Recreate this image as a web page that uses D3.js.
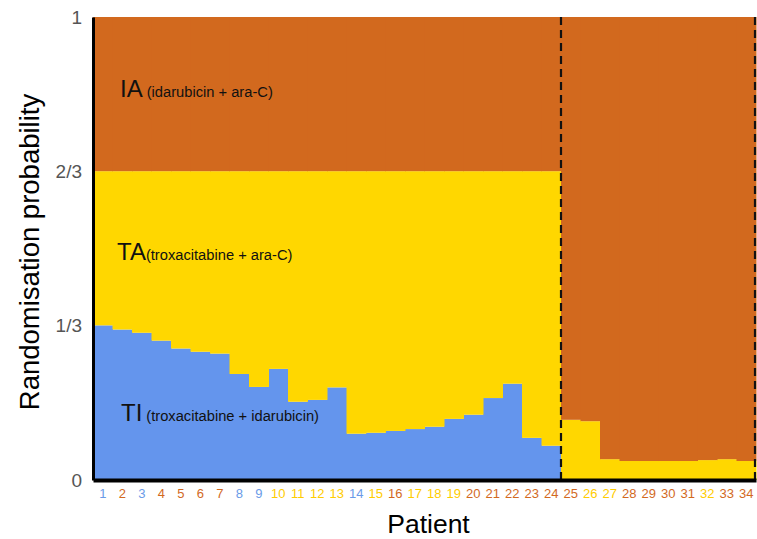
<!DOCTYPE html>
<html lang="en">
<head>
<meta charset="UTF-8">
<title>Randomisation probability by patient</title>
<script src="https://d3js.org/d3.v7.min.js"></script>
<style>
  body { margin: 0; background: #fff; }
  svg text { font-family: Arial, "Liberation Sans", sans-serif; }
  .axis-y text { font-size: 19px; fill: #555; }
  .axis-x text { font-size: 13px; }
</style>
</head>
<body>
<div id="chart"></div>
<script>
// data
const patients = d3.range(1, 35).map(String);
// probability of TI (troxacitabine + idarubicin)
const probTI = [0.334, 0.325, 0.318, 0.301, 0.284, 0.277, 0.273, 0.229, 0.201, 0.240,
  0.169, 0.173, 0.200, 0.100, 0.102, 0.106, 0.110, 0.115, 0.132, 0.141,
  0.177, 0.208, 0.091, 0.074, 0, 0, 0, 0, 0, 0, 0, 0, 0, 0];
// probability of TA (troxacitabine + ara-C)
const probTA = [0.333, 0.342, 0.349, 0.366, 0.383, 0.390, 0.394, 0.438, 0.466, 0.427,
  0.498, 0.494, 0.467, 0.567, 0.565, 0.561, 0.557, 0.552, 0.535, 0.526,
  0.490, 0.459, 0.576, 0.593, 0.130, 0.127, 0.045, 0.041, 0.041, 0.041, 0.041, 0.043, 0.045, 0.041];
// arm actually assigned to each patient (colours the tick label)
const assigned = ["TI", "IA", "TI", "IA", "IA", "IA", "IA", "TI", "TI", "TA",
  "TA", "TA", "TA", "TI", "TA", "IA", "TA", "TA", "TA", "IA",
  "IA", "IA", "IA", "IA", "IA", "TA", "TA", "IA", "IA", "IA", "IA", "TA", "IA", "IA"];
const yTicks = [0, 1/3, 2/3, 1];
const yTickLabels = ["0", "1/3", "2/3", "1"];
const arms = ["TI", "TA", "IA"];
const armNames = {
  IA: "(idarubicin + ara-C)",
  TA: "(troxacitabine + ara-C)",
  TI: "(troxacitabine + idarubicin)"
};

const colors = { TI: "#6495ED", TA: "#FFD700", IA: "#D2691E" };
const labelColors = { TI: "#6A9BE8", TA: "#FFCC00", IA: "#D2691E" };

const W = 757, H = 539;
const margin = { top: 17, right: 1, bottom: 59, left: 93 };

const rows = patients.map((p, i) => ({
  patient: p,
  TI: probTI[i],
  TA: probTA[i],
  IA: 1 - probTI[i] - probTA[i]
}));

const svg = d3.select("#chart").append("svg")
  .attr("width", W).attr("height", H);

const x = d3.scaleBand()
  .domain(patients)
  .range([margin.left, W - margin.right])
  .padding(0);

const y = d3.scaleLinear()
  .domain([0, 1])
  .range([H - margin.bottom, margin.top]);

const stacked = d3.stack().keys(arms)(rows);

// stacked bars
svg.append("g").selectAll("g")
  .data(stacked)
  .enter().append("g")
  .attr("fill", d => colors[d.key])
  .selectAll("rect")
  .data(d => d)
  .enter().append("rect")
  .attr("x", d => x(d.data.patient))
  .attr("width", x.bandwidth() + 0.5)
  .attr("y", d => y(d[1]))
  .attr("height", d => y(d[0]) - y(d[1]));

// dashed lines: after patient 24 and at the right edge
const dashX = [x("25"), x("34") + x.bandwidth() - 1];
svg.selectAll(".dash")
  .data(dashX)
  .enter().append("line")
  .attr("class", "dash")
  .attr("x1", d => d).attr("x2", d => d)
  .attr("y1", y(1)).attr("y2", y(0))
  .attr("stroke", "#111")
  .attr("stroke-width", 2.2)
  .attr("stroke-dasharray", "8,5");

// y axis
const yAxis = svg.append("g")
  .attr("class", "axis-y")
  .attr("transform", "translate(" + margin.left + ",0)")
  .call(d3.axisLeft(y).tickValues(yTicks)
    .tickFormat((d, i) => yTickLabels[i]).tickSize(0).tickPadding(11));
yAxis.select(".domain").attr("stroke", "#000").attr("stroke-width", 3);

// x axis
const xAxis = svg.append("g")
  .attr("class", "axis-x")
  .attr("transform", "translate(0," + y(0) + ")")
  .call(d3.axisBottom(x).tickSize(0).tickPadding(9));
xAxis.select(".domain").attr("stroke", "#000").attr("stroke-width", 4);
xAxis.selectAll(".tick text")
  .attr("fill", (d, i) => labelColors[assigned[i]]);

// axis titles
svg.append("text")
  .attr("text-anchor", "middle")
  .attr("x", (margin.left + W - margin.right) / 2 + 4)
  .attr("y", 533)
  .attr("font-size", 26.5)
  .text("Patient");

svg.append("text")
  .attr("text-anchor", "middle")
  .attr("transform", "rotate(-90)")
  .attr("x", -252)
  .attr("y", 39)
  .attr("font-size", 27.5)
  .text("Randomisation probability");

// arm labels inside the plot
const armLabels = [
  { arm: "IA", x: 120, y: 97, gap: 4 },
  { arm: "TA", x: 117, y: 260, gap: 0 },
  { arm: "TI", x: 121, y: 421, gap: 4 }
];
armLabels.forEach(l => {
  const t = svg.append("text")
    .attr("x", l.x).attr("y", l.y)
    .attr("fill", "#111");
  t.append("tspan").attr("font-size", 24).text(l.arm);
  t.append("tspan").attr("font-size", 14.7).attr("dx", l.gap).text(armNames[l.arm]);
});
</script>
</body>
</html>
